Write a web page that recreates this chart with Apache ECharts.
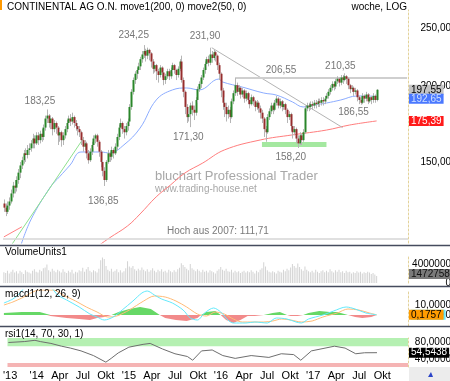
<!DOCTYPE html>
<html>
<head>
<meta charset="utf-8">
<script src="https://cdn.jsdelivr.net/npm/echarts@6/dist/echarts.min.js"></script>
<style>
html, body { margin: 0; padding: 0; background: #fff; }
#chart { width: 450px; height: 381px; }
</style>
</head>
<body>
<div id="chart"></div>
<script>
// weekly candles, first week 16.09.2013
const startDate = new Date(2013, 8, 16);
const slotCount = 226;

// [open, close, low, high]
const ohlc = [
  [128,126,124,130],[126,124,122,128],[124,127,123,129],[127,129,125,131],[129,133,128,135],
  [133,137,131,139],[137,136,133,140],[136,140,134,142],[140,144,138,146],[144,148,141,150],
  [148,151,146,153],[151,155,149,157],[155,154,150,158],[154,157,152,160],[157,158,154,161],
  [158,161,156,163],[161,164,158,167],[164,161,158,166],[161,166,160,168],[166,163,160,168],
  [163,167,161,169],[167,165,162,170],[165,171,163,173],[171,177,169,179],[177,179,174,183.25],
  [179,174,171,180],[174,177,170,179],[177,170,166,178],[170,174,168,176],[174,171,167,175],
  [171,166,160,172],[166,168,162,170],[168,163,159,169],[163,166,160,168],[166,170,164,172],
  [170,174,168,176],[174,177,172,179],[177,175,172,180],[175,178,173,181],[178,174,171,179],
  [174,172,169,176],[172,170,166,174],[170,168,165,172],[168,163,160,169],[163,159,156,165],
  [159,161,157,163],[161,155,152,162],[155,151,149,157],[151,156,150,158],[156,160,154,162],
  [160,164,158,166],[164,166,161,167],[166,162,159,167],[162,156,153,163],[156,150,147,157],
  [150,145,142,151],[145,140,136.85,147],[140,150,139,151],[150,155,149,157],[155,153,150,156],
  [153,157,151,159],[157,155,152,158],[155,159,154,161],[159,165,157,167],[165,171,163,173],
  [171,174,168,177],[174,170,167,175],[170,168,164,172],[168,172,166,174],[172,175,169,177],
  [175,185,173,187],[185,196,183,198],[196,205,194,207],[205,210,202,212],[210,213,206,215],
  [213,216,210,219],[216,222,213,224],[222,226,219,229],[226,229,223,234.25],[229,225,220,231],
  [225,230,222,232],[230,227,221,231],[227,220,215,228],[220,214,210,222],[214,217,211,219],
  [217,212,205,218],[212,209,203,214],[209,215,207,217],[215,211,207,216],[211,205,201,212],
  [205,208,202,210],[208,212,206,214],[212,208,205,214],[208,213,206,215],[213,217,211,219],
  [217,213,210,218],[213,209,205,214],[209,214,207,216],[214,220,212,222],[220,205,203,225],
  [205,196,192,207],[196,185,180,197],[185,178,174,187],[178,180,175,184],[180,186,171.3,188],
  [186,183,179,189],[183,181,176,186],[181,190,179,192],[190,198,188,200],[198,202,196,204],
  [202,207,199,209],[207,213,205,215],[213,218,210,220],[218,222,215,224],[222,219,216,225],
  [219,226,217,231.9],[226,223,219,229],[223,228,221,230],[228,225,220,229],[225,217,213,226],
  [217,210,205,219],[210,197,192,211],[197,188,183,199],[188,185,178,192],[185,180,175,188],
  [180,183,177,186],[183,178,174,185],[178,189,177,191],[189,195,187,197],[195,201,193,206.55],
  [201,196,193,203],[196,199,194,201],[199,194,191,200],[194,197,192,199],[197,191,188,198],
  [191,195,189,197],[195,190,187,196],[190,187,184,192],[187,192,186,194],[192,189,186,193],
  [189,185,182,190],[185,188,183,190],[188,184,181,189],[184,181,177,186],[181,177,174,183],
  [177,170,165,178],[170,168,162,172],[168,178,167,180],[178,182,176,184],[182,186,180,188],
  [186,183,180,187],[183,188,182,190],[188,191,186,193],[191,186,184,192],[186,189,184,191],
  [189,185,182,190],[185,187,183,189],[187,183,180,188],[183,178,174,184],[178,180,176,182],
  [180,172,169,181],[172,168,164,173],[168,170,166,172],[170,164,161,171],[164,161,158.2,166],
  [161,166,160,168],[166,163,160,167],[163,168,162,170],[168,184,167,186],[184,186,182,188],
  [186,185,182,188],[185,187,183,189],[187,186,183,189],[186,188,184,190],[188,187,184,190],
  [187,189,185,191],[189,188,185,191],[188,190,186,192],[190,189,186,192],[189,191,187,193],
  [191,193,189,195],[193,196,191,198],[196,199,194,201],[199,202,197,204],[202,200,197,204],
  [200,204,198,206],[204,206,202,208],[206,203,200,207],[203,207,201,209],[207,205,202,209],
  [205,208,204,210.35],[208,206,202,209],[206,201,198,207],[201,198,195,202],[198,199,196,201],
  [199,196,193,200],[196,197,194,199],[197,192,189,198],[192,190,187,193],[190,188,186.55,192],
  [188,193,187,195],[193,191,188,194],[191,194,189,196],[194,189,187,195],[189,192,188,194],
  [192,190,187,193],[190,193,188,195],[193,190,188,194],[190,197.55,189,198]
];

// volume in millions
const volumeMio = [
  2.3,2.1,2.6,2.0,2.4,2.8,2.2,2.5,2.0,2.6,2.3,1.9,2.7,2.4,2.2,
  2.0,2.6,2.9,2.4,2.2,2.8,2.5,3.1,3.3,3.9,2.7,2.4,3.0,2.6,2.3,
  2.8,2.5,2.2,2.9,2.4,2.1,2.6,2.3,2.8,2.0,2.4,2.2,2.7,2.5,3.2,
  2.4,2.9,3.4,2.6,2.3,2.7,2.5,2.2,3.0,4.8,5.4,5.1,3.6,2.8,2.5,
  3.0,2.4,2.6,2.9,2.3,2.7,2.2,2.5,3.1,4.6,3.5,3.2,3.6,2.9,2.6,
  3.0,2.7,3.3,2.8,2.5,2.9,2.4,2.7,3.1,2.6,2.3,2.8,2.5,2.9,2.4,
  2.6,2.2,2.8,2.5,2.3,2.7,2.4,2.9,3.2,4.2,3.8,3.4,3.0,2.7,4.0,
  3.1,2.8,2.5,2.9,2.6,2.3,2.8,2.4,2.6,2.2,2.7,2.5,2.3,2.0,2.6,
  2.9,3.4,2.8,2.6,3.0,2.5,2.4,2.8,2.2,2.6,2.3,2.5,2.1,2.4,2.6,
  2.2,2.5,2.3,2.7,2.4,2.0,2.6,2.3,2.8,3.1,4.4,3.5,2.7,2.4,2.2,
  2.5,2.3,2.0,2.6,2.4,2.2,2.8,2.5,3.0,2.7,3.3,4.0,3.6,3.2,4.1,
  3.4,2.9,2.6,3.5,2.8,2.5,2.3,2.6,2.2,2.8,2.4,2.1,2.5,2.7,2.3,
  2.6,2.3,2.9,2.5,2.2,2.7,2.4,2.8,2.3,2.5,2.1,2.6,2.3,2.4,2.0,
  2.3,2.1,2.5,2.2,2.4,2.0,2.3,2.1,2.4,2.2,1.9,2.1,1.8,1.472758
];

// moving averages [week index, value]
const ma200 = [[50,107.5],[59,112.3],[69,117.5],[76,123.0],[85,131.3],[93,137.4],[101,143.8],
  [111,149.4],[123,157.0],[143,163.1],[161,166.3],[180,169.4],[193,172.7],[208,175.39]];
const ma50 = [[9,108.1],[15,120.2],[26,136.4],[31,141.7],[37,148.3],[43,155.8],[54,155.8],[59,155.2],
  [67,160.1],[76,170.7],[85,190.0],[94,197.4],[102,198.9],[109,197.4],[120,205.8],[122,203.5],
  [133,199.6],[145,195.1],[152,193.6],[161,188.6],[167,185.0],[173,186.4],[180,187.8],[188,190.0],
  [197,192.9],[208,192.65]];

// drawn lines
const trendUp = [[4,109],[44,163.5]];
const trendRed = [[0,112.7],[10,117.1]];
const trendDown = [[116,231.9],[189,171]];
const resistance = [[129,206.55],[225,206.55]];
const supportZone = [[144,160.3],[180,160.3]];
const hoch2007 = 111.71;

// macd panel
const macdLine = [[0,12],[5,16],[9,22],[12,28],[20,32],[26,28],[30,20],[35,15],[42,8],[48,1],[52,-2],
  [56,-5],[61,-2],[66,5],[72,14],[77,22],[80,24],[84,20],[88,16],[94,12],[100,5],[104,-3],[108,-5],
  [112,2],[117,7],[121,3],[125,-5],[128,-8],[135,-8],[140,-7],[147,-8],[152,-3],[158,-4],[163,-7],
  [166,-8],[170,-4],[178,0],[184,4],[191,8],[196,6],[202,2],[208,0.194]];
const signalLine = [[0,10],[5,13],[10,17],[20,25],[28,25],[33,20],[40,14],[46,8],[52,3],[58,-2],
  [63,-1],[70,5],[78,14],[84,19],[90,18],[96,14],[102,8],[108,1],[113,-1],[118,3],[123,1],[128,-4],
  [133,-7],[145,-7],[150,-6],[155,-4],[160,-5],[166,-7],[172,-6],[178,-2],[186,2],[192,6],[198,5],
  [204,2],[208,0.1757]];
const histo = [[0,2],[10,3],[20,3],[24,1],[26,-1],[35,-3],[42,-4],[48,-5],[52,-3],[56,-2],[60,0],
  [64,3],[70,6],[76,8],[82,6],[87,0],[90,-3],[96,-5],[102,-6],[108,-3],[110,0],[113,3],[118,4],
  [121,0],[124,-5],[128,-8],[132,-5],[136,-1],[140,-1],[145,0],[150,2],[154,3],[158,0],[160,-1],
  [164,-1],[167,0],[170,2],[176,4],[182,3],[186,3],[190,1],[192,0],[196,-2],[200,-3],[205,-2],[208,0]];

// rsi panel
const rsiLine = [[0,78.8],[9,81],[15,84],[18,81],[24,76.6],[30,70],[35,65.5],[41,58.8],[48,47.7],
  [55,32],[58,41],[62,54],[68,67.7],[76,74.4],[80,76.6],[87,63.3],[94,52],[101,45.5],[104,36.6],
  [109,58.8],[115,61],[121,47.7],[128,41],[137,47.7],[147,43.3],[154,52],[161,50],[165,36.6],
  [171,58.8],[184,70],[190,65.5],[196,52],[201,54.4],[208,54.5438]];

// tick labels
const priceTicks = [150, 200, 250];
const volTicks = [0, 4000000];
const macdTicks = [0, 10];
const rsiTicks = [40, 80];
const xTickIdx = [1,16,29,42,55,68,81,94,107,120,133,146,159,172,185,198,211];
const xTickText = ["'13","'14","Apr","Jul","Okt","'15","Apr","Jul","Okt","'16","Apr","Jul","Okt","'17","Apr","Jul","Okt"];

// extreme labels [week index, price, text]
const notes = [[24,183.25,'183,25'],[56,136.85,'136,85'],[78,234.25,'234,25'],[115,231.9,'231,90'],
  [104,171.3,'171,30'],[129,206.55,'206,55'],[190,210.35,'210,35'],[164,158.2,'158,20'],[199,186.55,'186,55']];
const noteOffsets = [[-7,-8],[-1,15],[-10,-10],[-5,-11],[-2,10],[46,-8],[-4,-7],[-7,9],[-7,7]];

const FONT = '"Liberation Sans", Arial, sans-serif';

const categories = [];
for (let i = 0; i < slotCount; i++) {
  const d = new Date(startDate.getTime() + i * 7 * 86400000);
  categories.push(d.toISOString().slice(0, 10));
}
const tickMap = {};
xTickIdx.forEach((idx, k) => { tickMap[idx] = xTickText[k]; });

const chart = echarts.init(document.getElementById('chart'));

const grids = [
  { left: 3, right: 42, top: 10, height: 233 },
  { left: 3, right: 42, top: 257, height: 26 },
  { left: 3, right: 42, top: 290, height: 36 },
  { left: 3, right: 42, top: 338, height: 29 }
];

const xAxes = grids.map((g, k) => ({
  type: 'category',
  gridIndex: k,
  data: categories,
  boundaryGap: true,
  show: k === 3,
  axisLine: { show: false },
  axisTick: { show: false },
  splitLine: { show: false },
  axisLabel: {
    show: k === 3,
    interval: (idx) => tickMap[idx] !== undefined,
    formatter: (v, idx) => tickMap[idx] || '',
    color: '#000',
    fontFamily: FONT,
    fontSize: 11,
    margin: 3
  }
}));

const axisLineStyle = { show: true, lineStyle: { color: '#e3d29a', type: [2, 2], width: 1 } };
const yAxes = [
  { type: 'log', logBase: 10, gridIndex: 0, min: 110.1, max: 267.8 },
  { type: 'value', gridIndex: 1, min: 0, max: 5500000 },
  { type: 'value', gridIndex: 2, min: -11, max: 25 },
  { type: 'value', gridIndex: 3, min: 20.5, max: 89.5 }
].map(a => Object.assign(a, {
  position: 'right',
  axisLine: axisLineStyle,
  axisTick: { show: false },
  axisLabel: { show: false },
  splitLine: { show: false }
}));

function lineSeries(data, color, width, xi, extra) {
  return Object.assign({
    type: 'line',
    data: data,
    xAxisIndex: xi,
    yAxisIndex: xi,
    symbol: 'none',
    silent: true,
    lineStyle: { color: color, width: width },
    z: 3
  }, extra || {});
}

const option = {
  animation: false,
  backgroundColor: '#fff',
  grid: grids,
  xAxis: xAxes,
  yAxis: yAxes,
  series: [
    lineSeries(ma200, '#ff7d7d', 1, 0, {
      smooth: 0.4,
      markLine: {
        silent: true,
        symbol: 'none',
        label: { show: false },
        lineStyle: { color: '#d6d6d6', type: 'solid', width: 1.5 },
        data: [{ yAxis: hoch2007 }]
      }
    }),
    lineSeries(ma50, '#8cacff', 1, 0, { smooth: 0.4 }),
    lineSeries(trendUp, '#8ee08e', 1, 0),
    lineSeries(trendRed, '#ff8080', 1, 0),
    lineSeries(trendDown, '#b4b4b4', 1, 0),
    lineSeries(resistance, '#cfcfcf', 2, 0),
    lineSeries(supportZone, '#a4e8a0', 5, 0, { z: 2 }),
    {
      type: 'custom',
      xAxisIndex: 0,
      yAxisIndex: 0,
      data: ohlc.map((d, i) => [i, d[0], d[1], d[2], d[3]]),
      encode: { x: 0, y: [1, 2, 3, 4] },
      z: 4,
      renderItem: (params, api) => {
        const i = api.value(0);
        const o = api.value(1), c = api.value(2), l = api.value(3), h = api.value(4);
        const pHigh = api.coord([i, h]);
        const pLow = api.coord([i, l]);
        const pOpen = api.coord([i, o]);
        const pClose = api.coord([i, c]);
        const x = Math.round(pHigh[0]) + 0.5;
        const top = Math.min(pOpen[1], pClose[1]);
        const hgt = Math.max(1, Math.abs(pOpen[1] - pClose[1]));
        return {
          type: 'group',
          children: [
            { type: 'line', shape: { x1: x, y1: pHigh[1], x2: x, y2: pLow[1] },
              style: { stroke: '#b5b5b5', lineWidth: 1 } },
            { type: 'rect', shape: { x: x - 1, y: top, width: 2, height: hgt },
              style: { fill: c >= o ? '#2a862a' : '#962e2e' } }
          ]
        };
      }
    },
    {
      type: 'bar',
      xAxisIndex: 1,
      yAxisIndex: 1,
      data: volumeMio.map(v => v * 1000000),
      barWidth: 1,
      silent: true,
      itemStyle: { color: '#d3d3d3' }
    },
    lineSeries(histo.map(p => [p[0], Math.max(p[1], 0)]), '#66d866', 0, 2,
      { areaStyle: { color: '#66d866', opacity: 1 }, z: 2 }),
    lineSeries(histo.map(p => [p[0], Math.min(p[1], 0)]), '#f28a8a', 0, 2,
      { areaStyle: { color: '#f28a8a', opacity: 1 }, z: 2 }),
    lineSeries(signalLine, '#ffbb77', 1, 2, { smooth: 0.3 }),
    lineSeries(macdLine, '#63e9fb', 1, 2, { smooth: 0.3 }),
    lineSeries(rsiLine, '#6e6e6e', 1, 3, {
      markArea: {
        silent: true,
        data: [
          [{ yAxis: 70, itemStyle: { color: '#b5f0b2' } }, { yAxis: 89.5 }],
          [{ yAxis: 20.5, itemStyle: { color: '#f5b4b4' } }, { yAxis: 30 }]
        ]
      }
    })
  ]
};

chart.setOption(option);

function fmt(v, d) { return v.toFixed(d).replace('.', ','); }
function yPix(axis, v) { return chart.convertToPixel({ yAxisIndex: axis }, v); }

const gfx = [];
function txt(text, x, y, opts) {
  gfx.push({
    type: 'text', x: x, y: y, z: (opts && opts.z) || 10, silent: true,
    style: Object.assign({ text: text, font: '10px ' + FONT, fill: '#000', verticalAlign: 'middle' }, opts || {})
  });
}

// layout: title, separators, panel headers
gfx.push({ type: 'rect', shape: { x: 0, y: 0, width: 2, height: 10 }, style: { fill: '#ff9900' } });
txt('CONTINENTAL AG O.N. move1(200, 0) move2(50, 0)', 7, 7);
txt('woche, LOG', 407, 7, { align: 'right' });
txt('VolumeUnits1', 5, 252);
txt('macd1(12, 26, 9)', 5, 294);
txt('rsi1(14, 70, 30, 1)', 5, 334);
[245.5, 286.5, 326.5].forEach(y => {
  gfx.push({ type: 'line', shape: { x1: 0, y1: y, x2: 450, y2: y }, style: { stroke: '#454b5e', lineWidth: 1.5 }, z: 9 });
});
gfx.push({ type: 'rect', shape: { x: 409, y: 367, width: 41, height: 14 }, style: { fill: '#ececec' }, z: 9 });
gfx.push({ type: 'polygon', shape: { points: [[428, 377], [431, 372], [433, 377]] }, style: { fill: '#2b44c8' }, z: 10 });

// watermark
txt('bluchart Professional Trader', 155, 176, { font: '13px ' + FONT, fill: '#a8a8a8', z: 1 });
txt('www.trading-house.net', 155, 189, { font: '10px ' + FONT, fill: '#a8a8a8', z: 1 });
txt('Hoch aus 2007: ' + fmt(hoch2007, 2), 167, 231, { fill: '#7a7a7a', z: 1 });

// extreme annotations
notes.forEach((n, k) => {
  const p = chart.convertToPixel({ gridIndex: 0 }, [n[0], n[1]]);
  txt(n[2], p[0] + noteOffsets[k][0], p[1] + noteOffsets[k][1], { align: 'center', fill: '#777', z: 5 });
});

// right axis labels
const AXR = 451;
priceTicks.forEach(v => txt(fmt(v, 2), AXR, yPix(0, v), { align: 'right', z: 6 }));
volTicks.forEach(v => txt(String(v), AXR, yPix(1, v), { align: 'right', z: 6 }));
macdTicks.forEach(v => txt(fmt(v, 4), AXR, yPix(2, v), { align: 'right', z: 6 }));
rsiTicks.forEach(v => txt(fmt(v, 4), AXR, yPix(3, v), { align: 'right', z: 6 }));

// last value boxes
function box(text, y, bg, fg, z, x) {
  txt(text, x || 409, y, { backgroundColor: bg, fill: fg, padding: [1, 2, 0, 2], lineHeight: 9, z: z || 12 });
}
const lastClose = ohlc[ohlc.length - 1][1];
const lastMa50 = ma50[ma50.length - 1][1];
const lastMa200 = ma200[ma200.length - 1][1];
const yClose = yPix(0, lastClose);
box(fmt(lastClose, 2), yClose, '#c4c4c4', '#000');
box(fmt(lastMa50, 2), Math.max(yPix(0, lastMa50), yClose + 9), '#4a78ff', '#cfe0ff');
box(fmt(lastMa200, 2), yPix(0, lastMa200), '#ff1a1a', '#fff');
const lastVol = volumeMio[volumeMio.length - 1] * 1000000;
box(String(Math.round(lastVol)), yPix(1, lastVol) - 2, '#7a7a7a', '#111');
box(fmt(macdLine[macdLine.length - 1][1], 4), yPix(2, macdLine[macdLine.length - 1][1]), '#63e9fb', '#000', 11, 411);
box(fmt(signalLine[signalLine.length - 1][1], 4), yPix(2, signalLine[signalLine.length - 1][1]), '#ff9c00', '#000', 12);
box(fmt(rsiLine[rsiLine.length - 1][1], 4), yPix(3, rsiLine[rsiLine.length - 1][1]), '#000', '#fff');

chart.setOption({ graphic: gfx });
</script>
</body>
</html>
